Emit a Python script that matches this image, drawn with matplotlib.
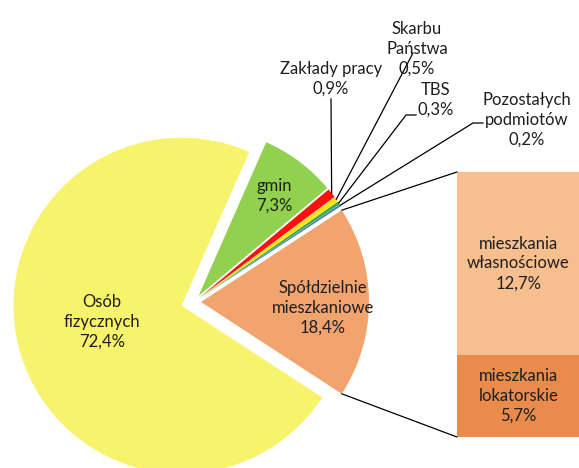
import numpy as np
import matplotlib.pyplot as plt
from matplotlib.patches import ConnectionPatch

plt.rcParams['font.family'] = ['Lato', 'DejaVu Sans']

# pie data (counterclockwise from the aggregated slice)
pie_labels = ['Spółdzielnie\nmieszkaniowe', 'Pozostałych\npodmiotów', 'TBS',
              'Skarbu\nPaństwa', 'Zakłady pracy', 'gmin', 'Osób\nfizycznych']
pie_values = [18.4, 0.2, 0.3, 0.5, 0.9, 7.3, 72.4]
pie_colors = ['#F2A46E', '#4F81BD', '#3FAE49', '#FFE21A', '#FF1010', '#92D050', '#F7F36C']

# bar of the "Spółdzielnie mieszkaniowe" slice (bottom to top)
bar_labels = ['mieszkania\nlokatorskie', 'mieszkania\nwłasnościowe']
bar_values = [5.7, 12.7]
bar_colors = ['#E98B4A', '#F8BF8E']

W, H = 579, 468
R = 168
explode = [7, 7.5, 7.5, 7.5, 7.5, 7.5, 13]  # offsets in pixels
txt_color = '#1e1e1e'
fs = 12


def pct(v):
    return f'{v:.1f}'.replace('.', ',') + '%'


def Y(y):
    return H - y


fig = plt.figure(figsize=(W / 100, H / 100), dpi=100)
ax = fig.add_axes([0, 0, 1, 1])

start = -pie_values[0] / 100 * 360 / 2
wedges, _ = ax.pie(pie_values, colors=pie_colors, explode=explode,
                   startangle=start, counterclock=True, radius=R,
                   center=(194, Y(302)), wedgeprops=dict(linewidth=0))
ax.set_xlim(0, W)
ax.set_ylim(0, H)
ax.set_aspect('equal')
ax.axis('off')


def edge_point(w, ang):
    cx, cy = w.center
    a = np.deg2rad(ang)
    return cx + w.r * np.cos(a), cy + w.r * np.sin(a)


def mid_point(w):
    return edge_point(w, (w.theta1 + w.theta2) / 2)


tk = dict(ha='center', va='center', fontsize=fs, color=txt_color, linespacing=1.3)

# labels inside the pie
ax.text(102, Y(322), pie_labels[6] + '\n' + pct(pie_values[6]), **tk)
ax.text(274, Y(196), pie_labels[5] + '\n' + pct(pie_values[5]), **tk)
ax.text(323, Y(308), pie_labels[0] + '\n' + pct(pie_values[0]), **tk)

# outside labels with leader lines
lk = dict(color='black', lw=0.9)
ax.text(331, Y(79), pie_labels[4] + '\n' + pct(pie_values[4]), **tk)
px, py = mid_point(wedges[4])
ax.plot([331, px], [Y(99), py], **lk)

ax.text(417, Y(49), pie_labels[3] + '\n' + pct(pie_values[3]), **tk)
px, py = mid_point(wedges[3])
ax.plot([413, px], [Y(53), py], **lk)

ax.text(436, Y(100), pie_labels[2] + '\n' + pct(pie_values[2]), **tk)
px, py = mid_point(wedges[2])
ax.plot([416, 406, px], [Y(115), Y(115), py], **lk)

ax.text(527, Y(120), pie_labels[1] + '\n' + pct(pie_values[1]), **tk)
px, py = mid_point(wedges[1])
ax.plot([483, 473, px], [Y(123), Y(123), py], **lk)

# bar of pie
bax = fig.add_axes([457 / W, Y(437) / H, 123 / W, 265 / H])
bottom = 0
for lab, v, c in zip(bar_labels, bar_values, bar_colors):
    bax.bar(0, v, bottom=bottom, width=1, color=c, linewidth=0)
    bax.text(0, bottom + v / 2, lab + '\n' + pct(v), **tk)
    bottom += v
bax.set_xlim(-0.5, 0.5)
bax.set_ylim(0, sum(bar_values))
bax.axis('off')

# connector lines between the slice and the bar
w0 = wedges[0]
for ang, yb in [(w0.theta2, 1), (w0.theta1, 0)]:
    cp = ConnectionPatch(xyA=edge_point(w0, ang), coordsA=ax.transData,
                         xyB=(0, yb), coordsB=bax.transAxes,
                         color='black', lw=0.9)
    fig.add_artist(cp)

plt.savefig('out.png', dpi=100)
